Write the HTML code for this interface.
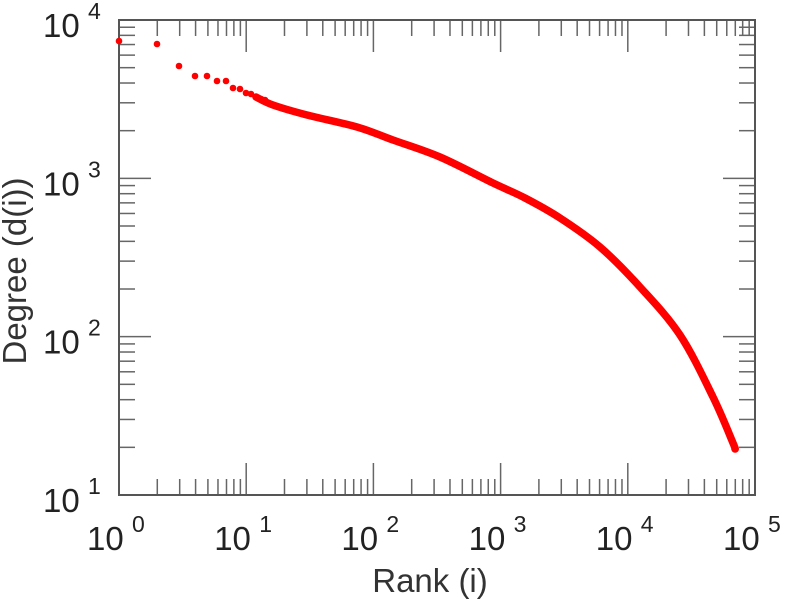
<!DOCTYPE html>
<html><head><style>
body{margin:0;background:#fff;}
svg{display:block;font-family:"Liberation Sans",sans-serif;}
</style></head><body>
<svg width="785" height="600" viewBox="0 0 785 600">
<g id="ticks" stroke="#666" stroke-width="1.5"></g>
<rect x="119" y="20" width="636" height="475" fill="none" stroke="#555" stroke-width="2"/>
<g id="data" fill="#f00"></g>
<g fill="#222" font-size="33" id="labels"></g>
<text x="430" y="592" font-size="33" text-anchor="middle" fill="#333">Rank (i)</text>
<text transform="translate(26,271) rotate(-90)" font-size="33" text-anchor="middle" fill="#333">Degree (d(i))</text>
</svg>
<script>
var NS="http://www.w3.org/2000/svg";
function el(t,a,p){var e=document.createElementNS(NS,t);for(var k in a)e.setAttribute(k,a[k]);p.appendChild(e);return e;}
var T=document.getElementById('ticks'),L=document.getElementById('labels'),D=document.getElementById('data');
var x0=119,xd=127.2,y0=495,yd=158.33;
for(var d=0;d<5;d++)for(var m=1;m<10;m++){var x=x0+xd*(d+Math.log10(m));if(m==1&&d==0)continue;var len=m==1?32:16;
el('line',{x1:x,y1:495,x2:x,y2:495-len},T);el('line',{x1:x,y1:20,x2:x,y2:20+len},T);}
for(var d=0;d<3;d++)for(var m=1;m<10;m++){var y=y0-yd*(d+Math.log10(m));if(m==1&&d==0)continue;var len=m==1?32:16;
el('line',{x1:119,y1:y,x2:119+len,y2:y},T);el('line',{x1:755,y1:y,x2:755-len,y2:y},T);}
for(var d=0;d<=5;d++){var x=x0+xd*d;var t=el('text',{x:x-32,y:550},L);t.textContent='10';
var s=el('text',{x:x+13,y:532,'font-size':'23'},L);s.textContent=d;}
for(var d=1;d<=4;d++){var y=y0-yd*(d-1);var t=el('text',{x:43,y:y+17},L);t.textContent='10';
var s=el('text',{x:88,y:y-1,'font-size':'23'},L);s.textContent=d;}
var dots=[[119,41],[157,44],[179,66],[195,76],[207,76],[217,81],[226,81],[233,88],[240,89],[246,93],[251,94],[256,97],[261,99],[265,100]];
dots.forEach(function(p){el('circle',{cx:p[0],cy:p[1],r:3.3},D);});
var pts=[[256,97],[273,105],[307,115],[357,127],[393,140],[440,157],[493,183],[525,198],[560,218],[600,247],[640,287],[680,335],[713,397],[733,443],[735,449]];
// catmull-rom
var dstr='M'+pts[0][0]+','+pts[0][1];
for(var i=0;i<pts.length-1;i++){var p0=pts[Math.max(0,i-1)],p1=pts[i],p2=pts[i+1],p3=pts[Math.min(pts.length-1,i+2)];
var c1=[p1[0]+(p2[0]-p0[0])/6,p1[1]+(p2[1]-p0[1])/6],c2=[p2[0]-(p3[0]-p1[0])/6,p2[1]-(p3[1]-p1[1])/6];
dstr+=' C'+c1.join(',')+' '+c2.join(',')+' '+p2.join(',');}
el('path',{d:dstr,fill:'none',stroke:'#f00','stroke-width':7.5,'stroke-linecap':'round','stroke-linejoin':'round'},D);
</script>
</body></html>
